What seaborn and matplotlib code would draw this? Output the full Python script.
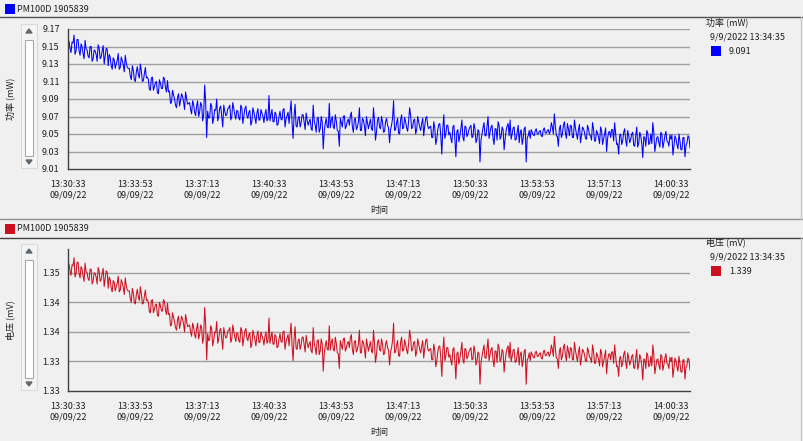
import matplotlib
matplotlib.use("Agg")
import matplotlib.pyplot as plt
import matplotlib.dates as mdates
from matplotlib.patches import Rectangle, Polygon
from matplotlib.lines import Line2D
import seaborn as sns
import pandas as pd

# readings: one at every 6 s from 13:30:33 ...
start_time = "2022-09-09 13:30:33"
sample_step_s = 3
power_mw = [
    9.152, 9.148, 9.155, 9.163, 9.145, 9.158, 9.140, 9.150, 9.136, 9.147,
    9.139, 9.150, 9.133, 9.146, 9.141, 9.152, 9.136, 9.145, 9.130, 9.148,
    9.128, 9.138, 9.124, 9.135, 9.130, 9.142, 9.126, 9.134, 9.121, 9.131,
    9.125, 9.116, 9.128, 9.112, 9.121, 9.118, 9.130, 9.110, 9.119, 9.114,
    9.112, 9.100, 9.115, 9.104, 9.110, 9.096, 9.108, 9.102, 9.113, 9.098,
    9.098, 9.085, 9.100, 9.090, 9.080, 9.096, 9.088, 9.093, 9.078, 9.091,
    9.085, 9.078, 9.088, 9.075, 9.082, 9.070, 9.086, 9.065, 9.106, 9.046,
    9.068, 9.085, 9.062, 9.078, 9.090, 9.070, 9.082, 9.058, 9.076, 9.072,
    9.080, 9.066, 9.086, 9.072, 9.077, 9.068, 9.083, 9.062, 9.079, 9.071,
    9.075, 9.060, 9.080, 9.069, 9.074, 9.066, 9.078, 9.070, 9.073, 9.065,
    9.094, 9.072, 9.064, 9.075, 9.060, 9.070, 9.067, 9.078, 9.058, 9.071,
    9.062, 9.088, 9.045, 9.084, 9.058, 9.070, 9.063, 9.072, 9.055, 9.066,
    9.064, 9.056, 9.083, 9.060, 9.068, 9.052, 9.070, 9.033, 9.062, 9.058,
    9.085, 9.066, 9.058, 9.072, 9.054, 9.036, 9.063, 9.070, 9.056, 9.065,
    9.060, 9.075, 9.052, 9.068, 9.058, 9.080, 9.054, 9.066, 9.048, 9.063,
    9.062, 9.056, 9.080, 9.043, 9.066, 9.058, 9.070, 9.052, 9.064, 9.060,
    9.040, 9.060, 9.088, 9.055, 9.068, 9.050, 9.072, 9.057, 9.064, 9.053,
    9.080, 9.056, 9.066, 9.050, 9.070, 9.058, 9.062, 9.048, 9.068, 9.059,
    9.058, 9.046, 9.064, 9.038, 9.055, 9.062, 9.027, 9.072, 9.050, 9.060,
    9.052, 9.040, 9.060, 9.024, 9.055, 9.048, 9.066, 9.042, 9.058, 9.050,
    9.058, 9.046, 9.062, 9.040, 9.055, 9.018, 9.050, 9.063, 9.048, 9.070,
    9.052, 9.060, 9.038, 9.056, 9.064, 9.044, 9.058, 9.032, 9.054, 9.062,
    9.066, 9.050, 9.058, 9.044, 9.060, 9.052, 9.038, 9.056, 9.018, 9.048,
    9.045, 9.052, 9.048, 9.056, 9.050, 9.054, 9.047, 9.057, 9.051, 9.055,
    9.053, 9.058, 9.073, 9.048, 9.036, 9.060, 9.050, 9.064, 9.045, 9.056,
    9.060, 9.046, 9.066, 9.050, 9.055, 9.040, 9.058, 9.052, 9.044, 9.056,
    9.048, 9.063, 9.042, 9.054, 9.046, 9.058, 9.038, 9.050, 9.030, 9.052,
    9.046, 9.055, 9.063, 9.038, 9.027, 9.050, 9.042, 9.056, 9.036, 9.048,
    9.044, 9.052, 9.036, 9.058, 9.040, 9.048, 9.023, 9.046, 9.054, 9.038,
    9.050, 9.063, 9.030, 9.046, 9.040, 9.052, 9.034, 9.048, 9.042, 9.036,
    9.044, 9.026, 9.048, 9.038, 9.050, 9.032, 9.046, 9.024, 9.040, 9.046,
]
# ... and the readings 3 s after each of those
power_mw_mid = [
    9.156, 9.143, 9.154, 9.141, 9.158, 9.145, 9.153, 9.142, 9.157, 9.146,
    9.137, 9.150, 9.136, 9.145, 9.133, 9.148, 9.138, 9.151, 9.139, 9.147,
    9.141, 9.128, 9.137, 9.125, 9.134, 9.124, 9.138, 9.129, 9.140, 9.126,
    9.125, 9.112, 9.123, 9.110, 9.127, 9.114, 9.122, 9.111, 9.126, 9.115,
    9.101, 9.114, 9.100, 9.109, 9.097, 9.112, 9.102, 9.115, 9.103, 9.111,
    9.099, 9.086, 9.095, 9.083, 9.092, 9.082, 9.096, 9.087, 9.098, 9.084,
    9.086, 9.073, 9.084, 9.071, 9.088, 9.075, 9.083, 9.072, 9.087, 9.076,
    9.069, 9.082, 9.068, 9.077, 9.065, 9.080, 9.070, 9.083, 9.071, 9.079,
    9.083, 9.070, 9.079, 9.067, 9.076, 9.066, 9.080, 9.071, 9.082, 9.068,
    9.077, 9.064, 9.075, 9.062, 9.079, 9.066, 9.074, 9.063, 9.078, 9.067,
    9.065, 9.078, 9.064, 9.073, 9.061, 9.076, 9.066, 9.079, 9.067, 9.075,
    9.075, 9.062, 9.071, 9.059, 9.068, 9.058, 9.072, 9.063, 9.074, 9.060,
    9.067, 9.054, 9.065, 9.052, 9.069, 9.056, 9.064, 9.053, 9.068, 9.057,
    9.057, 9.070, 9.056, 9.065, 9.053, 9.068, 9.058, 9.071, 9.059, 9.067,
    9.071, 9.058, 9.067, 9.055, 9.064, 9.054, 9.068, 9.059, 9.070, 9.056,
    9.067, 9.054, 9.065, 9.052, 9.069, 9.056, 9.064, 9.053, 9.068, 9.057,
    9.055, 9.068, 9.054, 9.063, 9.051, 9.066, 9.056, 9.069, 9.057, 9.065,
    9.071, 9.058, 9.067, 9.055, 9.064, 9.054, 9.068, 9.059, 9.070, 9.056,
    9.059, 9.046, 9.057, 9.044, 9.061, 9.048, 9.056, 9.045, 9.060, 9.049,
    9.045, 9.058, 9.044, 9.053, 9.041, 9.056, 9.046, 9.059, 9.047, 9.055,
    9.060, 9.047, 9.056, 9.044, 9.053, 9.043, 9.057, 9.048, 9.059, 9.045,
    9.058, 9.045, 9.056, 9.043, 9.060, 9.047, 9.055, 9.044, 9.059, 9.048,
    9.044, 9.057, 9.043, 9.052, 9.040, 9.055, 9.045, 9.058, 9.046, 9.054,
    9.055, 9.049, 9.054, 9.050, 9.053, 9.048, 9.055, 9.051, 9.054, 9.050,
    9.063, 9.050, 9.059, 9.047, 9.056, 9.046, 9.060, 9.051, 9.062, 9.048,
    9.059, 9.046, 9.057, 9.044, 9.061, 9.048, 9.056, 9.045, 9.060, 9.049,
    9.043, 9.056, 9.042, 9.051, 9.039, 9.054, 9.044, 9.057, 9.045, 9.053,
    9.055, 9.042, 9.051, 9.039, 9.048, 9.038, 9.052, 9.043, 9.054, 9.040,
    9.050, 9.037, 9.048, 9.035, 9.052, 9.039, 9.047, 9.036, 9.051, 9.040,
    9.039, 9.052, 9.038, 9.047, 9.035, 9.050, 9.040, 9.053, 9.041, 9.049,
    9.049, 9.036, 9.045, 9.033, 9.042, 9.032, 9.046, 9.037, 9.048, 9.034,
]

readout_time = "9/9/2022 13:34:35"
readout_power = 9.091
readout_voltage = 1.339

device_name = "PM100D 1905839"
power_label = "功率 (mW)"
voltage_label = "电压 (mV)"
time_label = "时间"
power_ticks = [9.01, 9.03, 9.05, 9.07, 9.09, 9.11, 9.13, 9.15, 9.17]
voltage_ticks = [1.3271, 1.3321, 1.3371, 1.3421, 1.3471]
voltage_lim = (1.3271, 1.3511)
time_ticks = pd.date_range(start_time, periods=10, freq="200s")

BLUE = "#0000ff"
RED = "#cc1020"
BG = "#f0f0f0"

sns.set_style("white")
plt.rcParams["font.family"] = ["Noto Sans CJK SC", "DejaVu Sans"]
plt.rcParams["font.size"] = 6.5

power_all = [v for pair in zip(power_mw, power_mw_mid) for v in pair]
# the voltage panel is the same reading shown through the sensor responsivity
responsivity = readout_power / readout_voltage
voltage_all = [p / responsivity for p in power_all]
times = pd.date_range(start_time, periods=len(power_all), freq=f"{sample_step_s}s")
df = pd.DataFrame({"time": times, "power": power_all, "voltage": voltage_all})

W, H = 804, 441
fig = plt.figure(figsize=(W / 100, H / 100), dpi=100, facecolor=BG)


def fx(x):
    return x / W


def fy(y):
    return 1 - y / H


def hline(y, color, lw=1.0):
    fig.add_artist(Line2D([0, 1], [fy(y), fy(y)], transform=fig.transFigure, color=color, lw=lw))


def scrollbar(y0, y1):
    fig.add_artist(Rectangle((fx(21), fy(y1)), 16 / W, (y1 - y0) / H, transform=fig.transFigure,
                             facecolor="#f4f4f4", edgecolor="#dadada", lw=0.8))
    fig.add_artist(Rectangle((fx(25), fy(y1 - 12)), 8 / W, (y1 - y0 - 28) / H, transform=fig.transFigure,
                             facecolor="#ffffff", edgecolor="#a8a8a8", lw=0.8))
    fig.add_artist(Polygon([[fx(26), fy(y0 + 9)], [fx(32), fy(y0 + 9)], [fx(29), fy(y0 + 5)]],
                           transform=fig.transFigure, color="#606870"))
    fig.add_artist(Polygon([[fx(26), fy(y1 - 8)], [fx(32), fy(y1 - 8)], [fx(29), fy(y1 - 4)]],
                           transform=fig.transFigure, color="#606870"))


def panel(top, bottom, ycol, color, ylabel, ticks, ylim, fmt, readout):
    ax = fig.add_axes([fx(68), fy(bottom), (690 - 68) / W, (bottom - top) / H])
    ax.set_facecolor(BG)
    sns.lineplot(data=df, x="time", y=ycol, ax=ax, color=color, linewidth=0.75, estimator=None)
    ax.set_ylim(*ylim)
    ax.set_yticks(ticks)
    ax.set_yticklabels([fmt % t for t in ticks])
    for t in ticks[1:]:
        ax.axhline(t, color="#a0a0a0", lw=1.0, zorder=0)
    ax.set_xlim(times[0], times[-1])
    ax.set_xticks(time_ticks)
    ax.xaxis.set_major_formatter(mdates.DateFormatter("%H:%M:%S\n%m/%d/%y"))
    ax.tick_params(axis="both", direction="out", length=3, width=0.8, color="#404040",
                   labelsize=6.5, labelcolor="#202020", pad=3)
    ax.tick_params(axis="x", pad=5)
    for lab in ax.get_xticklabels():
        lab.set_linespacing(1.15)
    for s in ["top", "right"]:
        ax.spines[s].set_visible(False)
    for s in ["left", "bottom"]:
        ax.spines[s].set_color("#404040")
        ax.spines[s].set_linewidth(1.0)
    ax.set_xlabel(time_label, fontsize=6.5, labelpad=5)
    ax.set_ylabel("")
    fig.text(fx(10), fy((top + bottom) / 2), ylabel, rotation=90, ha="center", va="center",
             fontsize=6.5, color="#202020")
    # header with device swatch
    fig.add_artist(Rectangle((fx(5), fy(top - 15)), 10 / W, 10 / H, transform=fig.transFigure,
                             facecolor=color, edgecolor="none"))
    fig.text(fx(17), fy(top - 20), device_name, ha="left", va="center", fontsize=6.5, color="#202020")
    # readout box at the right
    fig.text(fx(706), fy(top - 7), ylabel, ha="left", va="center", fontsize=6.5, color="#202020")
    fig.text(fx(710), fy(top + 8), readout_time, ha="left", va="center", fontsize=6.5, color="#202020")
    fig.add_artist(Rectangle((fx(711), fy(top + 27)), 10 / W, 10 / H, transform=fig.transFigure,
                             facecolor=color, edgecolor="none"))
    fig.text(fx(729), fy(top + 22), "%.3f" % readout, ha="left", va="center", fontsize=6.5, color="#202020")
    scrollbar(top - 5, bottom - 1)
    return ax


panel(29, 169, "power", BLUE, power_label, power_ticks, (9.01, 9.17), "%.2f", readout_power)
panel(249, 391, "voltage", RED, voltage_label, voltage_ticks, voltage_lim, "%.2f", readout_voltage)

hline(17, "#505050")
hline(219, "#909090")
hline(238, "#404040")
fig.add_artist(Line2D([fx(801), fx(801)], [fy(17), fy(219)], transform=fig.transFigure, color="#c8c8c8", lw=1))
fig.add_artist(Line2D([fx(801), fx(801)], [fy(238), fy(441)], transform=fig.transFigure, color="#c8c8c8", lw=1))

fig.savefig("out.png", dpi=100, facecolor=BG)
